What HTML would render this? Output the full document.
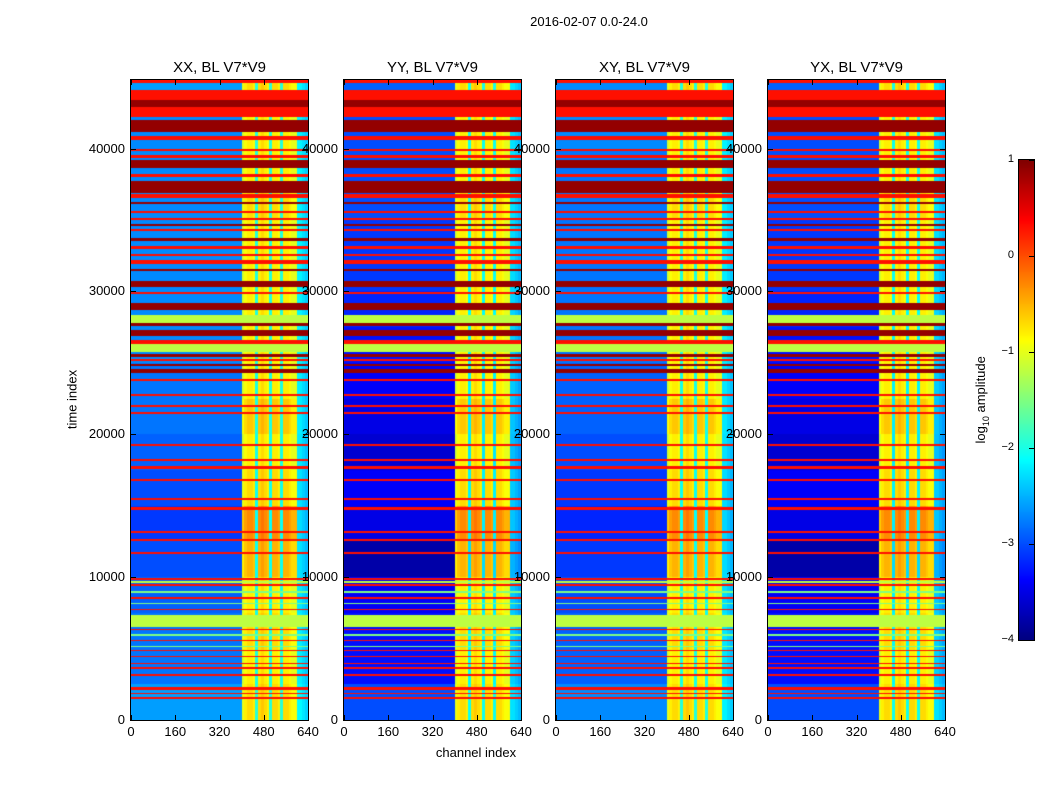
<!DOCTYPE html>
<html><head><meta charset="utf-8">
<style>
body{margin:0;background:#fff;width:1050px;height:800px;position:relative;overflow:hidden;font-family:"Liberation Sans","DejaVu Sans",sans-serif;}
.t{position:absolute;font-size:13px;color:#000;white-space:nowrap}
canvas{position:absolute}
</style></head>
<body>
<div class="t" style="left:489px;top:14px;width:200px;text-align:center;font-size:13px">2016-02-07 0.0-24.0</div>
<div class="t" style="left:22px;top:392px;width:100px;text-align:center;transform:rotate(-90deg)">time index</div>
<div class="t" style="left:376px;top:745px;width:200px;text-align:center">channel index</div>
<div class="t" style="left:922px;top:391px;width:120px;text-align:center;transform:rotate(-90deg)">log<sub style="font-size:9px">10</sub> amplitude</div>
<div id="root"></div>
<script>
// ---- data ----
const panelTitles = ["XX, BL V7*V9","YY, BL V7*V9","XY, BL V7*V9","YX, BL V7*V9"];
const yTicks = [0,10000,20000,30000,40000];
const xTicks = [0,160,320,480,640];
const cbTicks = [1,0,-1,-2,-3,-4];
// flagged full-width time bands: start, end, log amplitude
const bandStart = [44580,43370,42880,42180,41130,40630,39860,39370,38670,38030,36900,36560,36130,35500,35000,34600,34200,33530,33000,32500,31920,31400,30300,29800,28680,27820,27580,26880,26320,25730,25400,25100,24750,24300,23700,22700,21900,21400,19200,18100,17600,16700,15400,14700,13100,12500,11600,9800,9600,9400,8900,8500,8100,7700,7200,6500,6300,5900,5500,5100,4800,4400,3900,3600,3100,2200,2100,1800,1500];
const bandEnd   = [45000,44080,43370,42880,41970,40910,40000,39580,39230,38240,37750,36830,36270,35640,35150,34750,34350,33740,33150,32650,32200,31550,30720,29950,29170,28320,27820,27300,26600,26320,25650,25300,24950,24600,23900,22850,22050,21550,19350,18250,17750,16850,15550,14900,13250,12650,11750,9950,9700,9500,9000,8600,8200,7800,7350,7200,6400,6000,5600,5200,4900,4500,4000,3700,3200,2300,2200,1900,1600];
const bandValue = [0.3,0.3,0.9,0.3,0.9,0.3,0.3,0.3,0.9,0.3,0.9,0.3,0.9,0.3,0.3,0.9,0.3,0.9,0.3,0.3,0.3,0.9,0.9,0.3,0.9,-1.2,0.9,0.9,0.3,-1.2,0.9,0.3,0.9,0.9,0.3,0.3,0.3,0.3,0.3,0.3,0.3,0.3,0.3,0.3,0.3,0.3,0.3,0.3,-1.2,0.3,-1.5,0.3,-1.5,0.3,-1.2,-1.2,0.3,-1.5,0.3,-1.5,0.3,0.3,0.3,0.3,0.3,0.3,0.3,0.3,0.3];
// background level per 2500-unit segment (t=0 upward), per panel
const bgXX = [-2.6,-2.8,-2.8,-2.9,-3.0,-3.1,-3.0,-2.9,-2.8,-2.8,-2.7,-2.7,-2.7,-2.7,-2.7,-2.7,-2.7,-2.6];
const bgYY = [-3.0,-3.3,-3.3,-3.4,-3.8,-3.5,-3.4,-3.6,-3.5,-3.4,-3.3,-3.2,-3.1,-3.1,-3.0,-3.0,-3.0,-2.9];
const bgXY = [-2.7,-2.9,-2.9,-3.0,-3.1,-3.2,-3.1,-3.0,-2.9,-2.9,-2.8,-2.8,-2.8,-2.8,-2.8,-2.8,-2.7,-2.7];
const bgYX = [-3.0,-3.3,-3.3,-3.4,-3.8,-3.5,-3.4,-3.6,-3.5,-3.4,-3.3,-3.2,-3.1,-3.1,-3.0,-3.0,-3.0,-2.9];
// extra brightness in the 400-600 channel block per 2500-unit segment
const hot = [0.1,0.0,0.1,0.0,0.3,0.5,0.1,0.0,0.2,0.0,0.0,0.0,0.0,0.0,0.1,0.0,0.0,0.1];
// channel level per 10-channel bin (null = background)
const colLevel = [null,null,null,null,null,null,null,null,null,null,null,null,null,null,null,null,null,null,null,null,null,null,null,null,null,null,null,null,null,null,null,null,null,null,null,null,null,null,null,null,
 -1.1,-0.9,-0.8,-0.8,-0.9,-2.0,-0.8,-0.7,-0.8,-0.9,-2.0,-0.8,-0.8,-0.9,-2.0,-0.8,-0.8,-0.9,-1.0,-1.0,-2.2,-2.2,-2.3,-2.4];
const bgs = [bgXX,bgYY,bgXY,bgYX];

const TMAX=44800, VMIN=-4, VMAX=1;
const panelX=[131,344,556,768], PW=177, PT=80, PH=640;
function jet(v){
  let x=(v-VMIN)/(VMAX-VMIN); x=Math.max(0,Math.min(1,x));
  const f=(a)=>Math.max(0,Math.min(1,a));
  return [f(1.5-Math.abs(4*x-3)),f(1.5-Math.abs(4*x-2)),f(1.5-Math.abs(4*x-1))].map(c=>Math.round(c*255));
}
function yPix(t){return PT+PH-t/TMAX*PH;}
function value(p,t,ch){
  for(let i=0;i<bandStart.length;i++){ if(t>=bandStart[i]&&t<bandEnd[i]) return bandValue[i]; }
  const seg=Math.min(17,Math.floor(t/2500));
  const bg=bgs[p][seg];
  const cl=colLevel[Math.min(63,Math.floor(ch/10))];
  if(cl===null) return bg;
  if(cl<-1.5) return Math.max(cl+(bg+2.8)*0.3,-2.8);
  return cl+hot[seg];
}
const root=document.getElementById('root');
function div(cls,name,style,txt){const d=document.createElement('div');d.className=cls;d.style.cssText=style;if(txt!==undefined)d.textContent=txt;
 
 
 root.appendChild(d);return d;}
for(let p=0;p<4;p++){
  const x0=panelX[p];
  const cv=document.createElement('canvas');cv.width=PW;cv.height=PH;cv.style.left=x0+'px';cv.style.top=PT+'px';
  
  
  root.appendChild(cv);
  const ctx=cv.getContext('2d');const img=ctx.createImageData(PW,PH);
  for(let yy=0;yy<PH;yy++){const t=(PH-yy-0.5)/PH*TMAX;
    for(let xx=0;xx<PW;xx++){const ch=(xx+0.5)/PW*640;const c=jet(value(p,t,ch));const k=(yy*PW+xx)*4;
      img.data[k]=c[0];img.data[k+1]=c[1];img.data[k+2]=c[2];img.data[k+3]=255;}}
  ctx.putImageData(img,0,0);
  div('t','axes-frame',`left:${x0-1}px;top:${PT-1}px;width:${PW}px;height:${PH}px;border:1px solid #000`);
  div('t','panel-title',`left:${x0-20}px;top:59px;width:${PW+40}px;text-align:center;font-size:15px`,panelTitles[p]);
  xTicks.forEach(v=>{const x=x0+v/640*PW;
    div('t','x-tick',`left:${x}px;top:${PT+PH-5}px;width:1px;height:5px;background:#000`);
    div('t','x-tick',`left:${x}px;top:${PT}px;width:1px;height:5px;background:#000`);
    div('t','x-tick-label',`left:${x-30}px;top:724px;width:60px;text-align:center`,String(v));});
  yTicks.forEach(v=>{const y=yPix(v);
    div('t','y-tick',`left:${x0}px;top:${y}px;width:5px;height:1px;background:#000`);
    div('t','y-tick',`left:${x0+PW-5}px;top:${y}px;width:5px;height:1px;background:#000`);
    div('t','y-tick-label',`left:${x0-66}px;top:${y-8}px;width:60px;text-align:right`,String(v));});
}
// colorbar
const cb=document.createElement('canvas');cb.width=15;cb.height=480;cb.style.left='1019px';cb.style.top='160px';


root.appendChild(cb);
const cctx=cb.getContext('2d');
for(let i=0;i<480;i++){const c=jet(VMAX-(i+0.5)/480*(VMAX-VMIN));cctx.fillStyle=`rgb(${c})`;cctx.fillRect(0,i,15,1);}
div('t','colorbar-frame','left:1018px;top:159px;width:15px;height:480px;border:1px solid #000');
cbTicks.forEach(v=>{const y=160+(VMAX-v)/(VMAX-VMIN)*480;
  div('t','colorbar-tick-label',`left:974px;top:${y-7}px;width:40px;text-align:right;font-size:11px`,v<0?'\u2212'+(-v):String(v));
  div('t','colorbar-tick',`left:1029px;top:${y}px;width:5px;height:1px;background:#000`);});
</script>
</body></html>
